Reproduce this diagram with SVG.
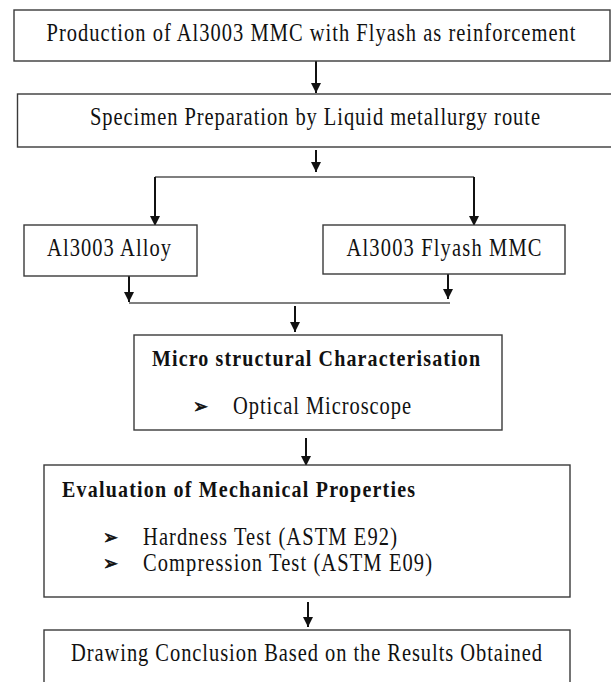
<svg xmlns="http://www.w3.org/2000/svg" width="611" height="682" viewBox="0 0 611 682">
<style>
.box{fill:#fff;stroke:#3a3a3a;stroke-width:1.4}
text{font-family:'Liberation Serif','Times New Roman',Times,serif}
.t{font-size:20.5px;fill:#111;text-anchor:middle;dominant-baseline:central}
.b{font-weight:bold;font-size:20px}
.l{text-anchor:start}
.bul{font-family:'DejaVu Sans',sans-serif;font-size:18px;fill:#111;dominant-baseline:central;stroke:#111;stroke-width:0.6}
.c{stroke:#111;stroke-width:2;fill:none}
.m{stroke:#555;stroke-width:1.5;fill:none}
</style>
<defs>
<marker id="ah" viewBox="0 0 10 10" refX="10" refY="5" markerWidth="5" markerHeight="5" markerUnits="strokeWidth" orient="auto">
<path d="M0,0 L10,5 L0,10 Z" fill="#111"/>
</marker>
</defs>
<rect width="611" height="682" fill="#fff"/>
<g id="connectors">
<line class="c" x1="316" y1="61" x2="316" y2="93" marker-end="url(#ah)"/>
<line class="c" x1="316" y1="150" x2="316" y2="172" marker-end="url(#ah)"/>
<polyline class="m" points="155,177 474,177"/>
<line class="c" x1="155" y1="177" x2="155" y2="226" marker-end="url(#ah)"/>
<line class="c" x1="474" y1="177" x2="474" y2="226" marker-end="url(#ah)"/>
<line class="c" x1="129" y1="276" x2="129" y2="302" marker-end="url(#ah)"/>
<line class="c" x1="448" y1="274" x2="448" y2="299" marker-end="url(#ah)"/>
<line class="m" x1="129" y1="303" x2="450" y2="303"/>
<line class="c" x1="295" y1="306" x2="295" y2="332" marker-end="url(#ah)"/>
<line class="c" x1="306" y1="438" x2="306" y2="466" marker-end="url(#ah)"/>
<line class="c" x1="308" y1="602" x2="308" y2="627" marker-end="url(#ah)"/>
</g>
<g id="n1">
<rect class="box" x="14" y="10" width="596" height="51"/>
<text class="t" transform="translate(311 33) scale(1 1.2)" textLength="529" lengthAdjust="spacing">Production of Al3003 MMC with Flyash as reinforcement</text>
</g>
<g id="n2">
<rect class="box" x="17.5" y="94" width="600" height="53"/>
<text class="t" transform="translate(315 117) scale(1 1.2)" textLength="450" lengthAdjust="spacing">Specimen Preparation by Liquid metallurgy route</text>
</g>
<g id="n3">
<rect class="box" x="24" y="225" width="173" height="51"/>
<text class="t" transform="translate(109 248) scale(1 1.2)" textLength="124" lengthAdjust="spacing">Al3003 Alloy</text>
</g>
<g id="n4">
<rect class="box" x="323" y="225" width="242" height="49"/>
<text class="t" transform="translate(444 248) scale(1 1.2)" textLength="195" lengthAdjust="spacing">Al3003 Flyash MMC</text>
</g>
<g id="n5">
<rect class="box" x="134" y="335" width="368" height="95"/>
<text class="t b" transform="translate(316 358) scale(1 1.2)" textLength="328" lengthAdjust="spacing">Micro structural Characterisation</text>
<text class="bul" transform="translate(193 406) scale(1 1.1)">➢</text>
<text class="t l" transform="translate(233 406) scale(1 1.2)" textLength="178" lengthAdjust="spacing">Optical Microscope</text>
</g>
<g id="n6">
<rect class="box" x="44" y="465" width="526" height="132"/>
<text class="t b l" transform="translate(62 489) scale(1 1.2)" textLength="353" lengthAdjust="spacing">Evaluation of Mechanical Properties</text>
<text class="bul" transform="translate(103 537) scale(1 1.1)">➢</text>
<text class="t l" transform="translate(143 537) scale(1 1.2)" textLength="254" lengthAdjust="spacing">Hardness Test (ASTM E92)</text>
<text class="bul" transform="translate(103 563) scale(1 1.1)">➢</text>
<text class="t l" transform="translate(143 563) scale(1 1.2)" textLength="289" lengthAdjust="spacing">Compression Test (ASTM E09)</text>
</g>
<g id="n7">
<rect class="box" x="44" y="630" width="526" height="70"/>
<text class="t" transform="translate(306.5 653) scale(1 1.2)" textLength="471" lengthAdjust="spacing">Drawing Conclusion Based on the Results Obtained</text>
</g>
</svg>
